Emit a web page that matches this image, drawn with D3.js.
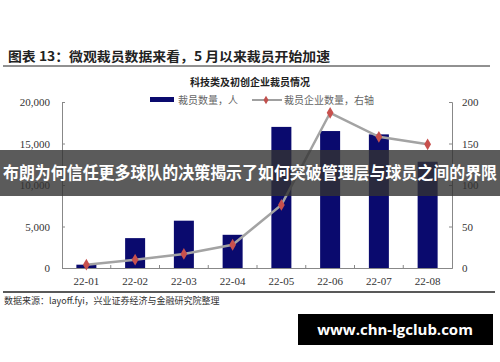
<!doctype html>
<html lang="zh">
<head>
<meta charset="utf-8">
<script src="https://d3js.org/d3.v7.min.js"></script>
<style>
  body { margin: 0; background: #fff; }
  svg { display: block; }
  .axis path, .axis line { stroke: #888; }
  .axis text { font-family: "Liberation Serif", serif; font-size: 11px; fill: #333; }
</style>
</head>
<body>
<svg width="500" height="362"></svg>
<script>
// data
var months = ["22-01", "22-02", "22-03", "22-04", "22-05", "22-06", "22-07", "22-08"];
var layoffs = [400, 3600, 5700, 4000, 17000, 16500, 16100, 12800];
var companies = [4, 10, 17, 28, 76, 187, 158, 149];
var leftTicks = [0, 5000, 10000, 15000, 20000];
var rightTicks = [0, 50, 100, 150, 200];

var svg = d3.select("svg");
var margin = {left: 62, top: 102, right: 48, bottom: 94};
var width = 500 - margin.left - margin.right;
var height = 362 - margin.top - margin.bottom;
var cjk = "'Noto Sans CJK SC', sans-serif";

var g = svg.append("g")
    .attr("transform", "translate(" + margin.left + "," + margin.top + ")");

var x = d3.scaleBand().domain(months).range([0, width]);
var yL = d3.scaleLinear().domain([0, 20000]).range([height, 0]);
var yR = d3.scaleLinear().domain([0, 200]).range([height, 0]);

// header
svg.append("text")
    .attr("x", 8).attr("y", 61)
    .style("font-family", cjk).style("font-size", "13px").style("font-weight", "bold")
    .attr("fill", "#222")
    .attr("textLength", 322).attr("lengthAdjust", "spacingAndGlyphs")
    .text("图表 13：微观裁员数据来看，5 月以来裁员开始加速");
svg.append("line")
    .attr("x1", 3).attr("x2", 490).attr("y1", 66).attr("y2", 66)
    .attr("stroke", "#222").attr("stroke-width", 1);
svg.append("text")
    .attr("x", 250).attr("y", 86).attr("text-anchor", "middle")
    .style("font-family", cjk).style("font-size", "10px").style("font-weight", "bold")
    .attr("fill", "#222")
    .text("科技类及初创企业裁员情况");

// legend
var leg = svg.append("g").style("font-family", cjk).style("font-size", "10px");
leg.append("rect").attr("x", 150).attr("y", 97).attr("width", 24).attr("height", 5).attr("fill", "#0a0a6e");
leg.append("text").attr("x", 178).attr("y", 104).attr("fill", "#666").text("裁员数量，人");
leg.append("line").attr("x1", 252).attr("x2", 282).attr("y1", 100).attr("y2", 100)
    .attr("stroke", "#a0a0a0").attr("stroke-width", 2);
leg.append("path").attr("d", d3.symbol().type(d3.symbolDiamond).size(22)())
    .attr("transform", "translate(266,100)").attr("fill", "#c0504d");
leg.append("text").attr("x", 284).attr("y", 104).attr("fill", "#666").text("裁员企业数量，右轴");

// axes
g.append("g").attr("class", "axis")
    .call(d3.axisLeft(yL).tickValues(leftTicks).tickSize(-3).tickPadding(12).tickFormat(d3.format(",")));
g.append("g").attr("class", "axis")
    .attr("transform", "translate(" + width + ",0)")
    .call(d3.axisRight(yR).tickValues(rightTicks).tickSize(-3).tickPadding(10));
var xAxis = g.append("g").attr("class", "axis")
    .attr("transform", "translate(0," + height + ")")
    .call(d3.axisBottom(x).tickSize(0).tickPadding(9));
xAxis.selectAll(".sep")
    .data(months.slice(1))
    .enter().append("line")
    .attr("x1", function(d) { return x(d); })
    .attr("x2", function(d) { return x(d); })
    .attr("y1", 0).attr("y2", -3)
    .attr("stroke", "#888");

// bars
var barW = 20;
g.selectAll(".bar")
    .data(layoffs)
    .enter().append("rect")
    .attr("x", function(d, i) { return x(months[i]) + x.bandwidth() / 2 - barW / 2; })
    .attr("y", function(d) { return yL(d); })
    .attr("width", barW)
    .attr("height", function(d) { return height - yL(d); })
    .attr("fill", "#0a0a6e");

// line
var line = d3.line()
    .x(function(d, i) { return x(months[i]) + x.bandwidth() / 2; })
    .y(function(d) { return yR(d); });
g.append("path").datum(companies)
    .attr("d", line).attr("fill", "none")
    .attr("stroke", "#a3a3a3").attr("stroke-width", 2.5);
g.selectAll(".pt")
    .data(companies)
    .enter().append("path")
    .attr("d", d3.symbol().type(d3.symbolDiamond).size(40)())
    .attr("transform", function(d, i) {
        return "translate(" + (x(months[i]) + x.bandwidth() / 2) + "," + yR(d) + ")";
    })
    .attr("fill", "#c8504d");

// footer
svg.append("line")
    .attr("x1", 3).attr("x2", 495).attr("y1", 292).attr("y2", 292)
    .attr("stroke", "#222").attr("stroke-width", 1.5);
svg.append("text")
    .attr("x", 4).attr("y", 304)
    .style("font-family", cjk).style("font-size", "9px").attr("fill", "#333")
    .text("数据来源：layoff.fyi，兴业证券经济与金融研究院整理");

// banner overlay (covers the middle tick labels, as in the picture)
svg.append("rect")
    .attr("x", 0).attr("y", 150).attr("width", 500).attr("height", 46)
    .attr("fill", "rgba(50,50,50,0.8)");
svg.append("text")
    .attr("x", 250).attr("y", 179).attr("text-anchor", "middle")
    .style("font-family", cjk).style("font-size", "17px").style("font-weight", "bold")
    .attr("fill", "#fff")
    .attr("textLength", 494).attr("lengthAdjust", "spacingAndGlyphs")
    .text("布朗为何信任更多球队的决策揭示了如何突破管理层与球员之间的界限");

// watermark
svg.append("rect")
    .attr("x", 298).attr("y", 314).attr("width", 195).attr("height", 31)
    .attr("fill", "#000");
svg.append("text")
    .attr("x", 395).attr("y", 335).attr("text-anchor", "middle")
    .style("font-family", "'Open Sans', sans-serif").style("font-size", "15px").style("font-weight", "bold")
    .attr("fill", "#fff")
    .text("www.chn-lgclub.com");
</script>
</body>
</html>
